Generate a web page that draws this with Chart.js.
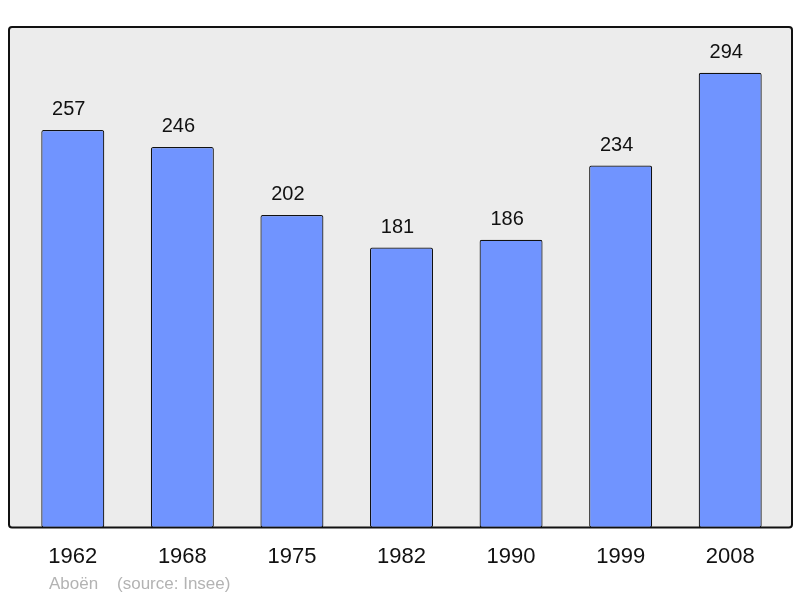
<!DOCTYPE html>
<html>
<head>
<meta charset="utf-8">
<script src="https://cdn.jsdelivr.net/npm/chart.js@4/dist/chart.umd.min.js"></script>
<style>
  html, body { margin: 0; padding: 0; background: #fff; }
  #wrap { width: 800px; height: 598px; }
</style>
</head>
<body>
<div id="wrap"><canvas id="popChart" width="800" height="598"></canvas></div>
<script>
const years = ['1962', '1968', '1975', '1982', '1990', '1999', '2008'];
const population = [257, 246, 202, 181, 186, 234, 294];
const footerText = 'Aboën    (source: Insee)';

// grey frame behind the bars
const framePlugin = {
    id: 'frame',
    beforeDraw(chart) {
        const { ctx, chartArea } = chart;
        const x0 = chartArea.left - 9, x1 = chartArea.right + 7;
        const y0 = chartArea.top, y1 = chartArea.bottom;
        ctx.save();
        ctx.beginPath();
        ctx.roundRect(x0, y0, x1 - x0, y1 - y0, 3);
        ctx.fillStyle = '#ececec';
        ctx.fill();
        ctx.lineWidth = 2;
        ctx.strokeStyle = '#111';
        ctx.stroke();
        ctx.restore();
    }
};

// numbers over bars + source line
const labelPlugin = {
    id: 'labels',
    afterDatasetsDraw(chart) {
        const { ctx } = chart;
        const meta = chart.getDatasetMeta(0);
        ctx.save();
        ctx.font = '20px "Liberation Sans", Arial, sans-serif';
        ctx.fillStyle = '#111';
        ctx.textAlign = 'center';
        ctx.textBaseline = 'alphabetic';
        meta.data.forEach((bar, i) => {
            ctx.fillText(population[i], bar.x - 4, bar.y - 15);
        });
        ctx.font = '17px "Liberation Sans", Arial, sans-serif';
        ctx.fillStyle = '#b3b3b3';
        ctx.textAlign = 'left';
        ctx.textBaseline = 'middle';
        ctx.fillText(footerText, 49, 584);
        ctx.restore();
    }
};

new Chart(document.getElementById('popChart'), {
    type: 'bar',
    data: {
        labels: years,
        datasets: [{
            data: population,
            backgroundColor: '#7094ff',
            borderColor: '#111',
            borderWidth: 1.2,
            borderRadius: 2,
            borderSkipped: false,
            barPercentage: 0.575,
            categoryPercentage: 1
        }]
    },
    options: {
        responsive: false,
        animation: false,
        events: [],
        layout: { padding: { left: 18, right: 15, top: 27, bottom: 12 } },
        plugins: {
            legend: { display: false },
            tooltip: { enabled: false }
        },
        scales: {
            x: {
                grid: { display: false, drawTicks: false },
                border: { display: false },
                ticks: {
                    color: '#111',
                    padding: 16,
                    font: { family: '"Liberation Sans", Arial, sans-serif', size: 22 }
                }
            },
            y: {
                display: false,
                min: 0,
                max: 323.6
            }
        }
    },
    plugins: [framePlugin, labelPlugin]
});
</script>
</body>
</html>
